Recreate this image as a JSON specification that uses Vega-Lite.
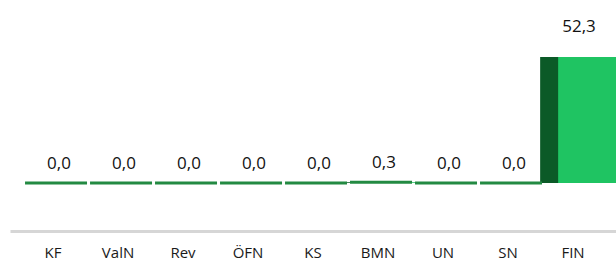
{
  "$schema": "https://vega.github.io/schema/vega-lite/v6.json",
  "width": {"step": 65},
  "height": 231,
  "padding": {"left": 10, "top": 0, "right": 0, "bottom": 0},
  "background": "white",
  "config": {
    "view": {"stroke": null},
    "font": "Open Sans",
    "locale": {"number": {"decimal": ",", "thousands": ".", "grouping": [3], "currency": ["", " €"]}}
  },
  "data": {
    "values": [
      {"unit": "KF", "value": 0.0},
      {"unit": "ValN", "value": 0.0},
      {"unit": "Rev", "value": 0.0},
      {"unit": "ÖFN", "value": 0.0},
      {"unit": "KS", "value": 0.0},
      {"unit": "BMN", "value": 0.3},
      {"unit": "UN", "value": 0.0},
      {"unit": "SN", "value": 0.0},
      {"unit": "FIN", "value": 52.3}
    ]
  },
  "encoding": {
    "x": {
      "field": "unit",
      "type": "nominal",
      "sort": null,
      "scale": {"paddingInner": 0.05, "paddingOuter": 0.187},
      "axis": {
        "title": null,
        "labelAngle": 0,
        "ticks": false,
        "domainColor": "#d6d6d6",
        "domainWidth": 3,
        "labelPadding": 15,
        "labelFontSize": 15,
        "labelColor": "#1a1a1a",
        "labelFont": "Open Sans"
      }
    },
    "y": {
      "field": "value",
      "type": "quantitative",
      "scale": {"domain": [-19.92, 75.96], "nice": false, "zero": false},
      "axis": null
    }
  },
  "layer": [
    {
      "mark": {"type": "bar", "color": "#0b5a27", "xOffset": -2},
      "encoding": {"y2": {"datum": 0}}
    },
    {
      "mark": {"type": "bar", "color": "#1fc462", "xOffset": 16},
      "encoding": {"y2": {"datum": 0}}
    },
    {
      "transform": [{"filter": "datum.value < 5"}],
      "mark": {"type": "tick", "color": "#238a42", "opacity": 1, "thickness": 3, "size": 62, "xOffset": 3},
      "encoding": {}
    },
    {
      "transform": [{"filter": "datum.value < 5"}],
      "mark": {"type": "text", "dy": -19, "xOffset": 6, "fontSize": 17, "color": "#111111", "font": "Open Sans"},
      "encoding": {"text": {"field": "value", "type": "quantitative", "format": ".1f"}}
    },
    {
      "transform": [{"filter": "datum.value >= 5"}],
      "mark": {"type": "text", "dy": -30, "xOffset": 6, "fontSize": 17, "color": "#111111", "font": "Open Sans"},
      "encoding": {"text": {"field": "value", "type": "quantitative", "format": ".1f"}}
    }
  ]
}
